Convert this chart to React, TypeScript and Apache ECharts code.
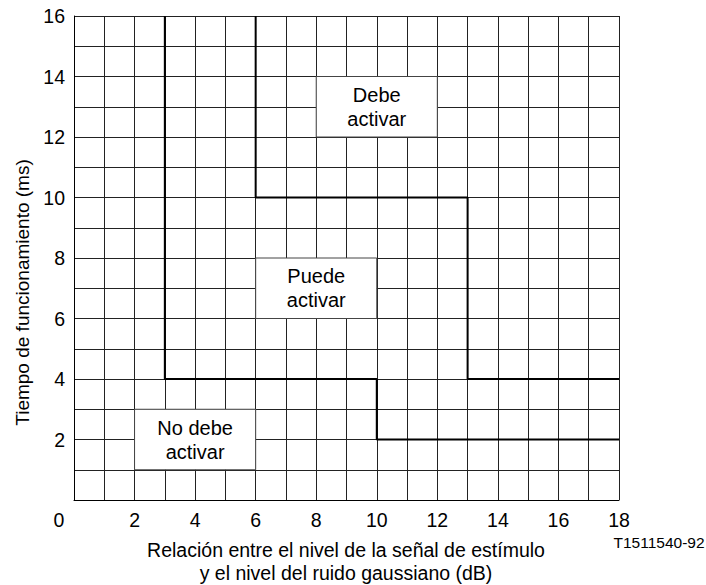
import React, { useEffect, useRef } from "react";
import * as echarts from "echarts";

const xLabels = [0, 2, 4, 6, 8, 10, 12, 14, 16, 18];
const yLabels = [2, 4, 6, 8, 10, 12, 14, 16];
const lowerBoundary: [number, number][] = [[3, 16], [3, 4], [10, 4], [10, 2], [18, 2]];
const upperBoundary: [number, number][] = [[6, 16], [6, 10], [13, 10], [13, 4], [18, 4]];
const regionNames = ["Debe\nactivar", "Puede\nactivar", "No debe\nactivar"];
const regionX: [number, number][] = [[8, 12], [6, 10], [2, 6]];
const regionY: [number, number][] = [[12, 14], [6, 8], [1, 3]];

const FONT = "Liberation Sans, Arial, sans-serif";
const FS = 19.5;

export default function App() {
  const ref = useRef<HTMLDivElement>(null);
  useEffect(() => {
    document.body.style.margin = "0";
    const chart = echarts.init(ref.current!, null, { renderer: "svg" });
    const grid = "#222";
    chart.setOption({
      animation: false,
      backgroundColor: "#fff",
      textStyle: { fontFamily: FONT },
      grid: { left: 74, right: 87, top: 16, bottom: 85 },
      xAxis: {
        type: "value",
        min: 0,
        max: 18,
        interval: 1,
        axisLine: { show: true, lineStyle: { color: "#000", width: 1 } },
        axisTick: { show: false },
        splitLine: { show: true, lineStyle: { color: grid, width: 1 } },
        axisLabel: {
          margin: 10,
          color: "#000",
          fontSize: FS,
          fontFamily: FONT,
          formatter: (v: number) =>
            xLabels.includes(v) ? (v === 0 ? "{z|0}" : String(v)) : "",
          rich: { z: { fontSize: FS, fontFamily: FONT, color: "#000", padding: [0, 30, 0, 0] } },
        },
      },
      yAxis: {
        type: "value",
        min: 0,
        max: 16,
        interval: 1,
        axisLine: { show: true, lineStyle: { color: "#000", width: 1 } },
        axisTick: { show: false },
        splitLine: { show: true, lineStyle: { color: grid, width: 1 } },
        axisLabel: {
          margin: 9,
          color: "#000",
          fontSize: FS,
          fontFamily: FONT,
          formatter: (v: number) => (yLabels.includes(v) ? String(v) : ""),
        },
      },
      graphic: [
        {
          type: "text",
          left: 13,
          top: "center",
          style: {
            text: "Tiempo de funcionamiento (ms)",
            fontSize: 19,
            fontFamily: FONT,
            fill: "#000",
          },
          rotation: Math.PI / 2,
          originX: 0,
          originY: 0,
        },
        {
          type: "text",
          x: 346,
          y: 561,
          style: {
            text: "Relación entre el nivel de la señal de estímulo\ny el nivel del ruido gaussiano (dB)",
            fontSize: 19.5,
            fontFamily: FONT,
            fill: "#000",
            align: "center",
            verticalAlign: "middle",
            lineHeight: 23,
          },
        },
        {
          type: "text",
          x: 659,
          y: 542,
          style: {
            text: "T1511540-92",
            fontSize: 15.5,
            fontFamily: FONT,
            fill: "#000",
            align: "center",
            verticalAlign: "middle",
          },
        },
      ],
      series: [
        {
          type: "line",
          data: [],
          silent: true,
          markArea: {
            silent: true,
            itemStyle: { color: "#fff", borderColor: "#444", borderWidth: 1 },
            label: {
              show: true,
              position: "inside",
              color: "#000",
              fontSize: 20,
              fontFamily: FONT,
              lineHeight: 24,
              align: "center",
            },
            data: regionNames.map((n, i) => [
              { name: n, xAxis: regionX[i][0], yAxis: regionY[i][0] },
              { xAxis: regionX[i][1], yAxis: regionY[i][1] },
            ]),
          },
        },
        {
          type: "line",
          data: lowerBoundary,
          symbol: "none",
          lineStyle: { color: "#000", width: 2 },
          z: 5,
        },
        {
          type: "line",
          data: upperBoundary,
          symbol: "none",
          lineStyle: { color: "#000", width: 2 },
          z: 5,
        },
      ],
    });
    return () => chart.dispose();
  }, []);
  return <div ref={ref} style={{ width: 706, height: 585 }} />;
}
